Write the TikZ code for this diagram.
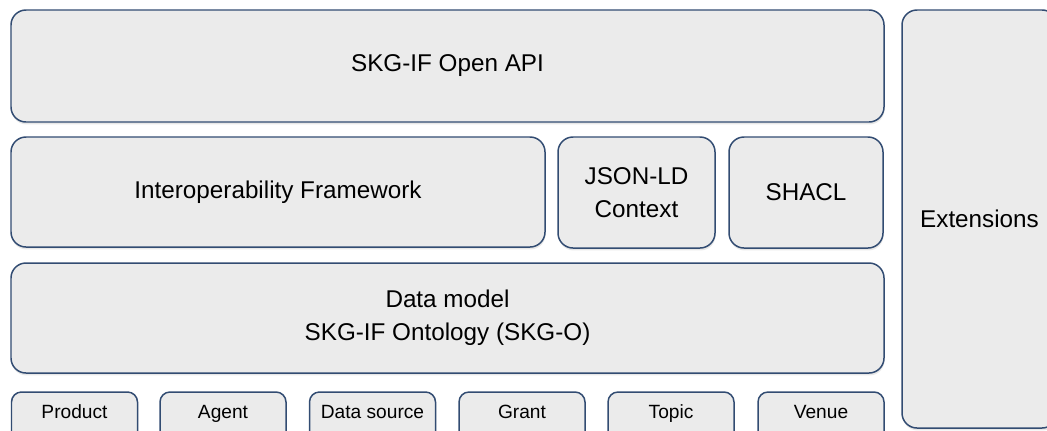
\documentclass[tikz,border=0pt]{standalone}
\usepackage{fontspec}
\setmainfont{Liberation Sans}
\usetikzlibrary{shadows}
\definecolor{boxfill}{HTML}{EBEBEB}
\definecolor{boxline}{HTML}{324C72}
\begin{document}
\begin{tikzpicture}[
  layer/.style={draw=boxline, line width=0.85pt, fill=boxfill, rounded corners=0.3cm,
    align=center, inner sep=0pt, font=\fontsize{13.8pt}{18.8pt}\selectfont,
    drop shadow={opacity=0.18, shadow xshift=0.3pt, shadow yshift=-1.4pt}},
  entity/.style={layer, rounded corners=0.2cm, minimum width=2.52cm, minimum height=1.0cm,
    text height=0.3cm, text depth=0.23cm, font=\fontsize{10.9pt}{13pt}\selectfont}]
  \clip (0,0) rectangle (20.94,-8.6);
  \useasboundingbox (0,0) rectangle (20.94,-8.6);
  % API
  \node[layer, minimum width=17.46cm, minimum height=2.24cm] (api) at (8.95,-1.32) {SKG-IF Open API};
  % interoperability row
  \node[layer, minimum width=10.68cm, minimum height=2.2cm] (interop) at (5.56,-3.84) {Interoperability Framework};
  \node[layer, minimum width=3.14cm, minimum height=2.22cm] (jsonld) at (12.73,-3.85) {JSON-LD\\Context};
  \node[layer, minimum width=3.08cm, minimum height=2.22cm] (shacl) at (16.12,-3.85) {SHACL};
  % data model
  \node[layer, minimum width=17.46cm, minimum height=2.2cm] (model) at (8.95,-6.36) {Data model\\SKG-IF Ontology (SKG-O)};
  % entities
  \node[entity] (product) at (1.49,-8.34) {Product};
  \node[entity] (agent) at (4.46,-8.34) {Agent};
  \node[entity] (source) at (7.45,-8.34) {Data source};
  \node[entity] (grant) at (10.44,-8.34) {Grant};
  \node[entity] (topic) at (13.42,-8.34) {Topic};
  \node[entity] (venue) at (16.42,-8.34) {Venue};
  % extensions
  \node[layer, minimum width=3.1cm, minimum height=8.36cm] (ext) at (19.59,-4.38) {Extensions};
\end{tikzpicture}
\end{document}
